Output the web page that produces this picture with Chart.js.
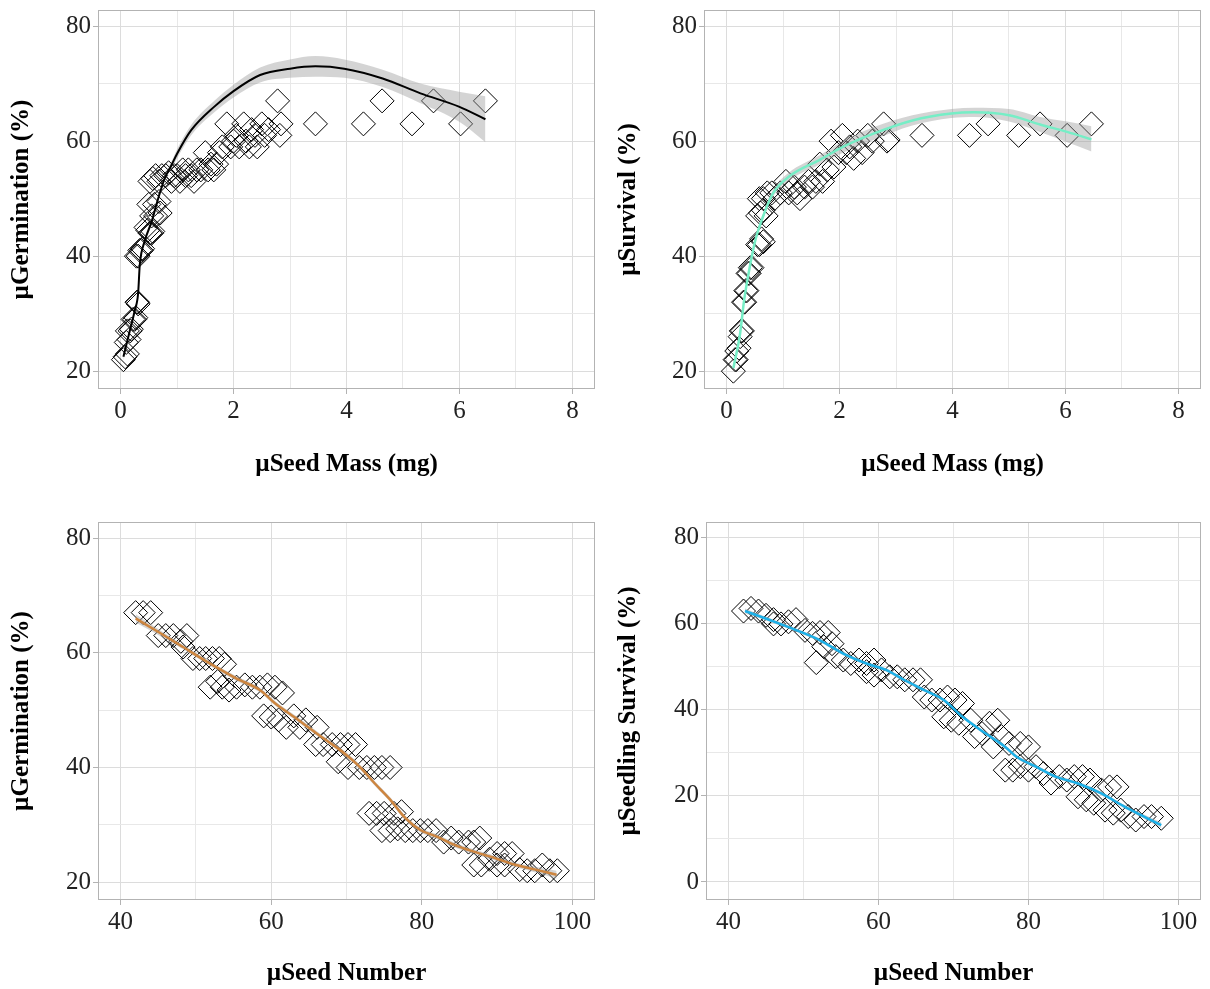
<!DOCTYPE html>
<html>
<head>
<meta charset="utf-8">
<script src="https://cdn.jsdelivr.net/npm/chart.js@4"></script>
<style>
  html, body { margin: 0; padding: 0; background: #fff; }
  #wrap { position: relative; width: 1210px; height: 989px; }
  .cell { position: absolute; }
</style>
</head>
<body>
<div id="wrap">
  <div class="cell" style="left:0;top:0"><canvas id="c1" width="605" height="490"></canvas></div>
  <div class="cell" style="left:605px;top:0"><canvas id="c2" width="605" height="490"></canvas></div>
  <div class="cell" style="left:0;top:490px"><canvas id="c3" width="605" height="499"></canvas></div>
  <div class="cell" style="left:605px;top:490px"><canvas id="c4" width="605" height="499"></canvas></div>
</div>
<script>
// ── Seed traits · four scatter + smooth panels ───────────────────────────────

// ─ Data: seed mass vs germination ─────────────────────────────────────────────
const massGermX = [0.05,0.08,0.12,0.10,0.15,0.12,0.17,0.19,0.22,0.25,0.27,0.29,0.30,0.31,0.28,0.31,0.34,0.37,0.39,
  0.52,0.55,0.57,0.45,0.48,0.55,0.62,0.70,0.50,0.60,0.68,0.52,0.57,0.62,0.68,0.73,0.80,0.85,0.90,0.95,1.00,
  1.05,1.10,1.15,1.20,1.25,1.30,1.35,1.42,1.50,1.55,1.60,1.65,1.70,1.75,1.80,1.88,1.95,2.00,2.05,2.10,
  2.18,2.22,2.28,2.32,2.38,2.42,2.50,2.55,2.62,2.78,2.82,2.84,3.45,4.30,4.63,5.16,5.54,6.02,6.46];
const massGermY = [22,22.5,23,25,25.5,27,27,27.3,29,29,29.3,32,32,31.7,40,40,41,41,41.3,
  44,44,44.3,45,44.5,47,47,47.5,49,49,49.5,53,53.5,54,53,54,54,54.5,53,54,54,
  53,55,54,55,54,53,55,55,58,55,56,55,56,58,59,63,59,60,61,59,
  63,60,59,62,61,59,63,61,62,67,61,63,63,63,67,63,67,63,67];
const massGermFitX  = [0.05,0.15,0.25,0.31,0.34,0.43,0.55,0.65,0.78,0.90,1.00,1.25,1.66,2.00,2.47,3.00,3.45,3.96,4.64,5.31,5.99,6.46];
const massGermFitY  = [22.5,26.5,30.5,33.5,38.5,42.7,46.0,49.5,53.5,55.8,57.8,61.9,66.0,68.7,71.5,72.6,73.0,72.6,70.9,68.3,66.0,63.8];
const massGermFitLo = [21.8,26.0,30.0,33.0,38.0,42.2,45.5,49.0,53.0,55.2,57.0,61.0,65.0,67.6,70.2,71.0,71.2,71.0,69.4,66.6,63.4,59.8];
const massGermFitHi = [23.2,27.0,31.0,34.0,39.0,43.2,46.5,50.0,54.0,56.4,58.6,62.8,67.0,69.8,72.8,74.2,74.8,74.2,72.4,70.0,68.6,67.8];

// ─ Data: seed mass vs survival ───────────────────────────────────────────────
const massSurvX = [0.12,0.15,0.17,0.18,0.22,0.24,0.26,0.28,0.30,0.32,0.34,0.36,0.38,0.40,0.42,0.45,
  0.55,0.58,0.62,0.65,0.55,0.60,0.65,0.70,0.58,0.65,0.72,0.80,0.85,0.95,1.05,1.10,1.20,1.25,1.30,1.38,
  1.45,1.52,1.58,1.65,1.70,1.78,1.85,1.90,1.98,2.05,2.12,2.18,2.25,2.32,2.40,2.50,2.58,2.78,2.84,2.86,
  3.46,4.30,4.63,5.17,5.55,6.03,6.46];
const massSurvY = [20,22,22,23.5,24,26,27,27,32,32,34,34,37,37,38,38,
  42,42,43,42.5,47,47.5,48,47,50,50,51,51,50,51,53,51,52,51,50,52,
  53,52,53,56,53,55,60,55.5,58,61,58,59,57,60,58,61,60,63,60,60.2,
  61,61,63,61,63,61,63];
const massSurvFitX  = [0.12,0.24,0.31,0.41,0.51,0.62,0.82,1.10,1.64,2.06,2.60,3.29,3.98,4.39,5.00,5.55,6.03,6.46];
const massSurvFitY  = [20.5,26.6,32.3,38.1,42.8,46.2,50.9,53.8,56.7,59.0,61.3,63.6,64.8,65.0,64.5,62.9,61.6,60.3];
const massSurvFitLo = [20.0,26.1,31.8,37.6,42.3,45.7,50.3,53.1,55.9,58.0,60.2,62.7,64.0,64.2,63.4,61.6,59.8,58.2];
const massSurvFitHi = [21.0,27.1,32.8,38.6,43.3,46.7,51.5,54.5,57.5,60.0,62.4,64.5,65.6,65.8,65.6,64.2,63.4,62.6];

// ─ Data: seed number vs germination ──────────────────────────────────────────
const numGermX = [42,43,44,45,46,47,48,48.8,48.3,49.6,50.5,51.3,52.2,53.1,53.8,51.9,52.9,53.5,54.4,55.4,
  56.5,57.5,58.5,59.5,60.5,61.5,59,60,61,62,63,63.8,64.6,66.1,65.9,66.9,68.1,69.2,70.2,71.2,
  68.9,70.2,71.7,72.7,73.7,74.7,75.8,73,74,75,76.3,77.3,74.7,75.8,76.8,77.8,78.8,79.8,80.8,81.9,
  82.9,83.9,84.9,86.2,86.9,87.7,86.9,87.9,89,90,91,92,90,91,93,94,95,96,97,98];
const numGermY = [67,67,67,63,63,63,62,63,61,59,59,59,59,59,58,54,55,54,53.5,54,
  54.4,54,54,54.4,54,53,49,48.8,48.3,47,49,47,48.3,47,44,44,44,44,44,44,
  41,40,40,40,40,40,40,32,32,32,32,32.3,29,29,29.3,29,29,29,29,29,
  27,27.7,27,27,27,27.7,23,23,24,25,25,25,23,23,22.2,22,22,23,22,22];
const numGermFitX  = [42,45.3,48.3,51.9,55.4,58.5,60.5,63.6,66.6,69.7,71.7,73.7,75.8,77.8,79.8,81.9,84.9,89.0,92.5,95.1,97.9];
const numGermFitY  = [66.0,63.4,61.0,58.1,55.5,53.5,51.2,48.3,45.4,42.5,40.2,37.3,34.4,31.2,29.1,28.0,26.2,24.5,23.0,22.2,21.3];
const numGermFitLo = [65.3,62.9,60.6,57.7,55.1,53.1,50.8,47.9,45.0,42.1,39.8,36.9,34.0,30.8,28.7,27.6,25.8,24.1,22.6,21.7,20.6];
const numGermFitHi = [66.7,63.9,61.4,58.5,55.9,53.9,51.6,48.7,45.8,42.9,40.6,37.7,34.8,31.6,29.5,28.4,26.6,24.9,23.4,22.7,22.0];

// ─ Data: seed number vs seedling survival ────────────────────────────────────
const numSurvX = [42,43,44,45,46,47,48,49,46,50.2,51.2,52.2,53.3,51.7,52.7,53.8,54.3,55.3,56.3,57.4,
  58.4,59.4,58.4,59.4,60.4,61.5,62.5,63.5,64.6,65.6,66.1,67.1,68.2,69.2,70.2,71.2,68.7,69.7,70.7,72.3,
  72.8,73.8,74.8,75.9,76.4,75.3,77.4,78.9,80,76.9,77.9,78.9,80,81,82,83,84.1,85.1,86.1,87.2,
  88.2,86.6,87.7,88.7,89.7,90.8,91.8,90.2,91.3,92.3,93.3,94.3,95.4,96.4,97.7];
const numSurvY = [63,63.6,63,62,61,60,60.5,61,60,58.5,57.8,58,58,51,54.7,55.4,52.4,51.6,50.8,51.6,
  50.8,51.6,48.9,48.1,49.3,47.7,47.7,47,47,47,43,42.3,42.3,43,42.3,41.5,38.4,37.6,36.9,37.6,
  33.8,34.5,36.9,37.6,33.8,31.4,32.2,32.2,31.4,26,26,26.8,26,26.8,25.2,23,24.5,23.7,24.5,24.5,
  23.7,19.8,19.1,18.3,21.4,22.1,22.1,16.7,16,16.7,15.2,14.4,15.2,15.2,14.8];
const numSurvFitX  = [42.2,45.5,49.1,52.2,55.3,58.4,61.0,63.5,66.1,68.7,71.2,74.3,76.9,78.4,81.0,83.6,86.6,89.7,92.8,95.4,97.7];
const numSurvFitY  = [63.0,60.9,58.5,56.2,53.1,50.8,49.3,46.9,44.6,42.3,38.4,34.5,31.4,29.1,26.8,24.5,22.9,20.6,17.5,15.2,13.2];
const numSurvFitLo = [62.4,60.5,58.1,55.8,52.7,50.4,48.9,46.5,44.2,41.9,38.0,34.1,31.0,28.7,26.4,24.1,22.5,20.2,17.1,14.7,12.5];
const numSurvFitHi = [63.6,61.3,58.9,56.6,53.5,51.2,49.7,47.3,45.0,42.7,38.8,34.9,31.8,29.5,27.2,24.9,23.3,21.0,17.9,15.7,13.9];

// ─ Axis ticks ────────────────────────────────────────────────────────────────
const massTicks     = [0, 2, 4, 6, 8];
const massMinor     = [1, 3, 5, 7];
const numberTicks   = [40, 60, 80, 100];
const numberMinor   = [50, 70, 90];
const pctTicks      = [20, 40, 60, 80];
const pctMinor      = [30, 50, 70];
const pctTicksZero  = [0, 20, 40, 60, 80];
const pctMinorZero  = [10, 30, 50, 70];

// ─ Style ─────────────────────────────────────────────────────────────────────
const SERIF       = "'Liberation Serif', 'Times New Roman', serif";
const GRID_MAJOR  = '#dcdcdc';
const GRID_MINOR  = '#e8e8e8';
const BORDER      = '#b3b3b3';
const TEXT        = '#222222';
const BAND        = 'rgba(153,153,153,0.42)';

const zip = (xs, ys) => xs.map((x, i) => ({ x, y: ys[i] }));

const panelBorder = {
  id: 'panelBorder',
  afterDraw(chart) {
    const { ctx, chartArea: a } = chart;
    ctx.save();
    ctx.strokeStyle = BORDER;
    ctx.lineWidth = 1;
    ctx.strokeRect(Math.round(a.left) + 0.5, Math.round(a.top) + 0.5,
      Math.round(a.right - a.left) - 1, Math.round(a.bottom - a.top) - 1);
    ctx.restore();
  }
};

// fixed scale size, no label overhang padding (keeps chart area where we want it)
const fixSize = (prop, size) => s => {
  s[prop] = size;
  s.paddingTop = 0; s.paddingBottom = 0;
  s.paddingLeft = 0; s.paddingRight = 0;
};

function axis(range, major, minor, fit, title, titlePad) {
  const all = major.concat(minor).sort((a, b) => a - b);
  return {
    min: range[0], max: range[1],
    afterBuildTicks: s => { s.ticks = all.map(v => ({ value: v })); },
    afterFit: fit,
    border: { display: false },
    grid: {
      color: c => major.includes(c.tick.value) ? GRID_MAJOR : GRID_MINOR,
      tickColor: c => major.includes(c.tick.value) ? BORDER : 'rgba(0,0,0,0)',
      lineWidth: 1,
      drawTicks: true,
      tickLength: 5,
    },
    ticks: {
      autoSkip: false,
      maxRotation: 0,
      padding: 2,
      color: TEXT,
      font: { family: SERIF, size: 25 },
      callback: v => major.includes(v) ? String(v) : '',
    },
    title: {
      display: true, text: title, color: '#000',
      font: { family: SERIF, size: 25, weight: 'bold' },
      padding: titlePad,
    },
  };
}

function buildPanel(id, p) {
  const ctx = document.getElementById(id).getContext('2d');
  return new Chart(ctx, {
    type: 'scatter',
    data: {
      datasets: [
        {
          data: zip(p.fitX, p.fitY), showLine: true, pointRadius: 0,
          borderColor: p.lineColor, borderWidth: p.lineWidth,
          cubicInterpolationMode: 'monotone', fill: false, order: 0,
        },
        {
          data: zip(p.fitX, p.fitHi), showLine: true, pointRadius: 0,
          borderWidth: 0, borderColor: 'rgba(0,0,0,0)', backgroundColor: BAND,
          cubicInterpolationMode: 'monotone', fill: '+1', order: 1,
        },
        {
          data: zip(p.fitX, p.fitLo), showLine: true, pointRadius: 0,
          borderWidth: 0, borderColor: 'rgba(0,0,0,0)',
          cubicInterpolationMode: 'monotone', fill: false, order: 1,
        },
        {
          data: zip(p.x, p.y), showLine: false,
          pointStyle: 'rectRot', pointRadius: 12, pointHoverRadius: 12,
          pointBorderColor: '#000', pointBorderWidth: 1,
          pointBackgroundColor: 'rgba(0,0,0,0)', order: 2,
        },
      ]
    },
    options: {
      responsive: false,
      animation: false,
      events: [],
      layout: { autoPadding: false, padding: { top: p.padTop, right: p.padRight, left: 0, bottom: 0 } },
      plugins: { legend: { display: false }, tooltip: { enabled: false } },
      scales: {
        x: axis(p.xRange, p.xMajor, p.xMinor, fixSize('height', p.xH), p.xTitle, { top: 0, bottom: p.xTitlePad }),
        y: axis(p.yRange, p.yMajor, p.yMinor, fixSize('width', p.yW), p.yTitle, { top: p.yTitlePad, bottom: 0 }),
      }
    },
    plugins: [panelBorder]
  });
}

// ─ Panels ────────────────────────────────────────────────────────────────────
buildPanel('c1', {
  x: massGermX, y: massGermY,
  fitX: massGermFitX, fitY: massGermFitY, fitLo: massGermFitLo, fitHi: massGermFitHi,
  lineColor: '#000000', lineWidth: 2,
  xRange: [-0.4, 8.4], xMajor: massTicks, xMinor: massMinor, xTitle: '\u00b5Seed Mass (mg)',
  yRange: [16.9, 82.8], yMajor: pctTicks, yMinor: pctMinor, yTitle: '\u00b5Germination (%)',
  padTop: 10, padRight: 10, yW: 98, xH: 101, xTitlePad: 10, yTitlePad: 7,
});

buildPanel('c2', {
  x: massSurvX, y: massSurvY,
  fitX: massSurvFitX, fitY: massSurvFitY, fitLo: massSurvFitLo, fitHi: massSurvFitHi,
  lineColor: '#76EEC6', lineWidth: 2.5,
  xRange: [-0.4, 8.4], xMajor: massTicks, xMinor: massMinor, xTitle: '\u00b5Seed Mass (mg)',
  yRange: [16.9, 82.8], yMajor: pctTicks, yMinor: pctMinor, yTitle: '\u00b5Survival (%)',
  padTop: 10, padRight: 9, yW: 99, xH: 101, xTitlePad: 10, yTitlePad: 9,
});

buildPanel('c3', {
  x: numGermX, y: numGermY,
  fitX: numGermFitX, fitY: numGermFitY, fitLo: numGermFitLo, fitHi: numGermFitHi,
  lineColor: '#CD853F', lineWidth: 2.5,
  xRange: [37, 103], xMajor: numberTicks, xMinor: numberMinor, xTitle: '\u00b5Seed Number',
  yRange: [16.9, 82.8], yMajor: pctTicks, yMinor: pctMinor, yTitle: '\u00b5Germination (%)',
  padTop: 32, padRight: 10, yW: 98, xH: 89, xTitlePad: 0, yTitlePad: 7,
});

buildPanel('c4', {
  x: numSurvX, y: numSurvY,
  fitX: numSurvFitX, fitY: numSurvFitY, fitLo: numSurvFitLo, fitHi: numSurvFitHi,
  lineColor: '#1CB0E8', lineWidth: 2.5,
  xRange: [37, 103], xMajor: numberTicks, xMinor: numberMinor, xTitle: '\u00b5Seed Number',
  yRange: [-4.2, 83.7], yMajor: pctTicksZero, yMinor: pctMinorZero, yTitle: '\u00b5Seedling Survival (%)',
  padTop: 32, padRight: 9, yW: 101, xH: 89, xTitlePad: 0, yTitlePad: 9,
});
</script>
</body>
</html>
